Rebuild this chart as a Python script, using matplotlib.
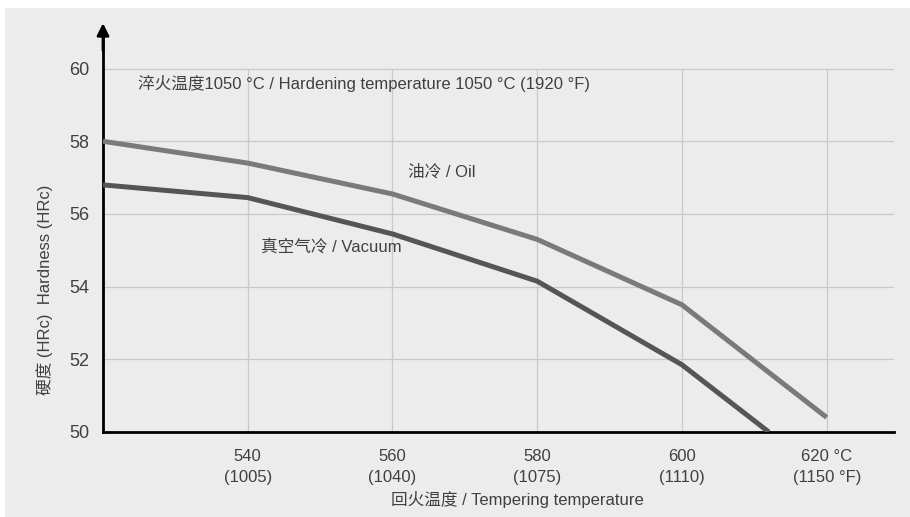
import matplotlib
matplotlib.use("Agg")
import matplotlib.pyplot as plt
import matplotlib.patches as mpatches

plt.rcParams['font.family'] = ['Liberation Sans', 'Noto Sans CJK SC', 'DejaVu Sans']

# data
temp_oil = [520, 540, 560, 580, 600, 620]
hrc_oil = [58.0, 57.4, 56.55, 55.3, 53.5, 50.4]
temp_vac = [520, 540, 560, 580, 600, 612]
hrc_vac = [56.8, 56.45, 55.45, 54.15, 51.85, 50.0]

xticks = [540, 560, 580, 600, 620]
xticklabels = ["540\n(1005)", "560\n(1040)", "580\n(1075)", "600\n(1110)", "620 °C\n(1150 °F)"]
yticks = [50, 52, 54, 56, 58, 60]

txt_c = "#404040"
grid_c = "#c9c9c9"
bg_c = "#ececec"

fig = plt.figure(figsize=(9.10, 5.17), dpi=100)
fig.patch.set_facecolor("white")
# grey panel behind the chart
fig.patches.append(mpatches.Rectangle((5 / 910, 0), 905 / 910, 509 / 517,
                                      transform=fig.transFigure,
                                      facecolor=bg_c, edgecolor="none", zorder=-10))

# axes: left spine x=103, right end x=894, y 50 at 432, top (arrow) at 25
W, H = 910, 517
ax = fig.add_axes([103 / W, (H - 432) / H, (894 - 103) / W, (432 - 25) / H])
ax.set_facecolor("none")
ax.set_xlim(520, 629.3)
ax.set_ylim(50, 61.2)

for t in xticks:
    ax.plot([t, t], [50, 60], color=grid_c, lw=0.9, zorder=1)
for v in yticks[1:]:
    ax.plot([520, 629.3], [v, v], color=grid_c, lw=0.9, zorder=1)

ax.plot(temp_oil, hrc_oil, color="#7a7a7a", lw=3.6, zorder=3, solid_capstyle="butt")
ax.plot(temp_vac, hrc_vac, color="#555555", lw=3.6, zorder=3, solid_capstyle="butt")

for s in ["top", "right"]:
    ax.spines[s].set_visible(False)
ax.spines["left"].set_linewidth(2)
ax.spines["bottom"].set_linewidth(2)
ax.spines["left"].set_bounds(50, 60.9)
ax.annotate("", xy=(520, 61.25), xytext=(520, 60.5),
            arrowprops=dict(arrowstyle="-|>", color="black", lw=2,
                            mutation_scale=18, shrinkA=0, shrinkB=0),
            annotation_clip=False, zorder=5)

ax.set_xticks(xticks)
ax.set_xticklabels(xticklabels, fontsize=12, color=txt_c, linespacing=1.55)
ax.set_yticks(yticks)
ax.set_yticklabels([str(v) for v in yticks], fontsize=13, color=txt_c)
ax.tick_params(axis="both", length=0)
ax.tick_params(axis="x", pad=12)
ax.tick_params(axis="y", pad=10)

ax.text(524.8, 59.6, "淬火温度1050 °C / Hardening temperature 1050 °C (1920 °F)",
        fontsize=12, color=txt_c, va="center", ha="left")
ax.text(562.2, 57.15, "油冷 / Oil", fontsize=12, color=txt_c, va="center", ha="left")
ax.text(541.8, 55.1, "真空气冷 / Vacuum", fontsize=12, color=txt_c, va="center", ha="left")

fig.text(517 / W, 1 - 500 / H, "回火温度 / Tempering temperature", fontsize=12,
         color=txt_c, ha="center", va="center")
fig.text(45 / W, 1 - 290 / H, "硬度 (HRc)  Hardness (HRc)", fontsize=12,
         color=txt_c, ha="center", va="center", rotation=90)

fig.savefig("out.png", dpi=100, facecolor=fig.get_facecolor())
